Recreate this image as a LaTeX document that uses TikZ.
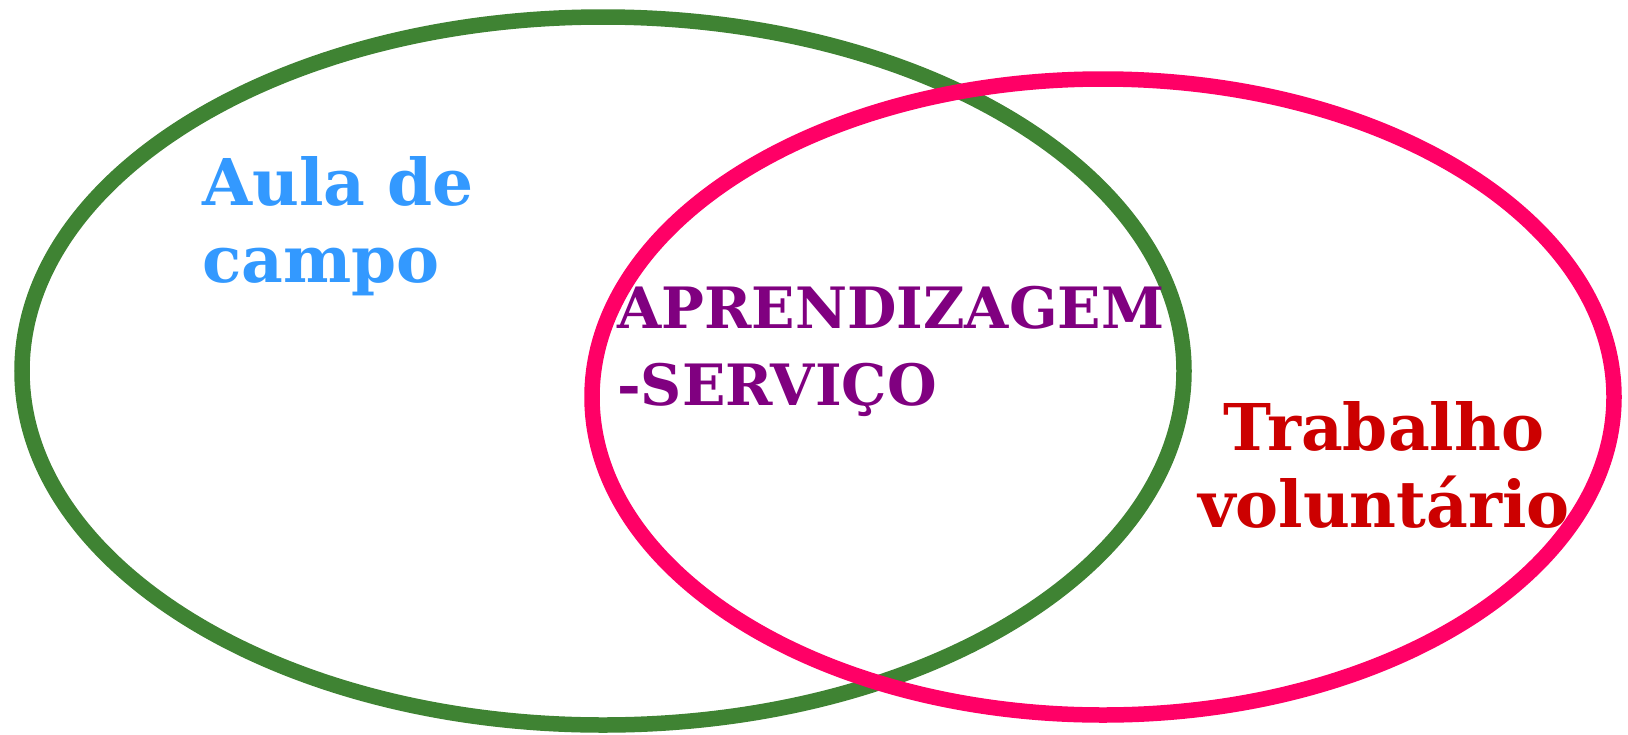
\documentclass[tikz,border=0pt]{standalone}
\usepackage{fontspec}
\setmainfont{DejaVu Serif}
\definecolor{gr}{HTML}{3F8333}
\definecolor{pk}{HTML}{FF0066}
\definecolor{bl}{HTML}{3399FF}
\definecolor{pu}{HTML}{800080}
\definecolor{rd}{HTML}{CC0000}
\begin{document}
\begin{tikzpicture}[x=1pt,y=-1pt,
  ring/.style={line width=15.5pt},
  lbl/.style={inner sep=0pt,font=\fontsize{64.5}{77}\selectfont\bfseries,align=left}]
\useasboundingbox (0,0) rectangle (1628,734);
\draw[ring,gr] (603,371) ellipse [x radius=581,y radius=354];
\draw[ring,pk] (1103,397) ellipse [x radius=511,y radius=318];
\node[lbl,text=bl,anchor=base west] (a) at (202,282) {Aula de\\campo};
\node[lbl,text=pu,anchor=base west,font=\fontsize{57}{77}\selectfont\bfseries] (b) at (617,405) {APRENDIZAGEM\\-SERVIÇO};
\node[lbl,text=rd,anchor=base,align=center] (c) at (1384,527) {Trabalho\\voluntário};
\end{tikzpicture}
\end{document}
